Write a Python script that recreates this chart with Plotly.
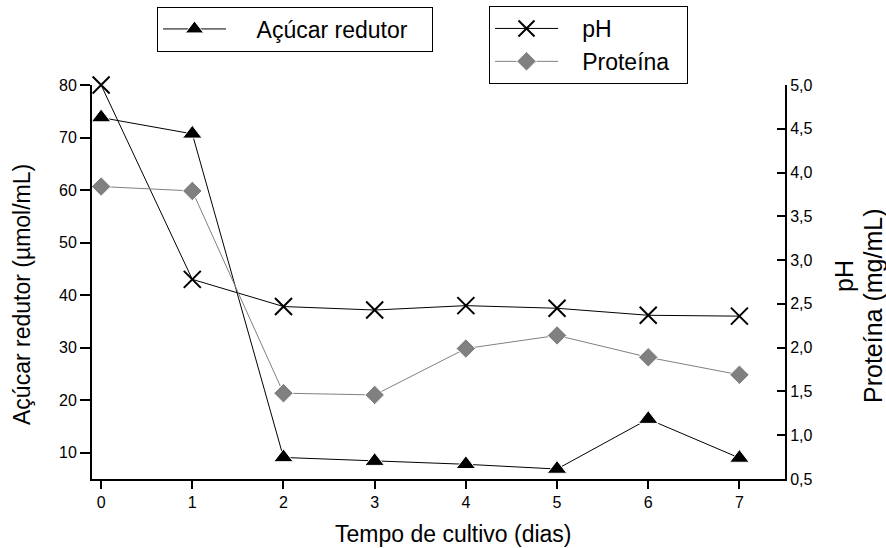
import plotly.graph_objects as go

# Dados do cultivo
dias = [0, 1, 2, 3, 4, 5, 6, 7]
acucar_redutor = [73.8, 70.7, 9.1, 8.4, 7.8, 6.9, 16.4, 9.0]      # µmol/mL
ph = [5.0, 2.78, 2.47, 2.43, 2.48, 2.45, 2.37, 2.36]
proteina = [3.84, 3.79, 1.48, 1.46, 1.99, 2.14, 1.89, 1.69]        # mg/mL

ticks_x = dias
ticks_esq = [10, 20, 30, 40, 50, 60, 70, 80]
ticks_dir = [0.5, 1.0, 1.5, 2.0, 2.5, 3.0, 3.5, 4.0, 4.5, 5.0]

FONTE = "Liberation Sans, Arial, sans-serif"
CINZA = "#808080"
W, H = 886, 548
M_L, M_R, M_T, M_B = 92, 101, 85, 69
PW, PH = W - M_L - M_R, H - M_T - M_B
NB = "\u00a0"


def px_x(px):
    return (px - M_L) / PW


def px_y(py):
    return (H - M_B - py) / PH


fig = go.Figure()

fig.add_trace(go.Scatter(
    x=dias, y=acucar_redutor, name=NB * 4 + "Açúcar redutor" + NB * 3,
    mode="lines+markers", yaxis="y", cliponaxis=False,
    line=dict(color="black", width=1),
    marker=dict(symbol="triangle-up", size=17, color="black",
                line=dict(color="white", width=1)),
    legend="legend",
))

fig.add_trace(go.Scatter(
    x=dias, y=ph, name=NB * 3 + "pH",
    mode="lines+markers", yaxis="y2", cliponaxis=False,
    line=dict(color="black", width=1),
    marker=dict(symbol="x-thin-open", size=17, color="black",
                line=dict(color="black", width=2)),
    legend="legend2",
))

fig.add_trace(go.Scatter(
    x=dias, y=proteina, name=NB * 3 + "Proteína" + NB * 2,
    mode="lines+markers", yaxis="y2", cliponaxis=False,
    line=dict(color=CINZA, width=1),
    marker=dict(symbol="diamond", size=15, color=CINZA,
                line=dict(color="white", width=1)),
    legend="legend2",
))

eixo = dict(showline=True, linecolor="black", linewidth=2,
            ticks="outside", tickcolor="black", tickwidth=2,
            showgrid=False, zeroline=False, automargin=False,
            tickfont=dict(family=FONTE, size=16, color="black"))

titulos = [
    dict(text="Tempo de cultivo (dias)", x=px_x(453), y=px_y(534), textangle=0, size=23),
    dict(text="Açúcar redutor (µmol/mL)", x=px_x(22), y=px_y(295), textangle=-90, size=23),
    dict(text="pH", x=px_x(844), y=px_y(276), textangle=-90, size=25),
    dict(text="Proteína (mg/mL)", x=px_x(873), y=px_y(306), textangle=-90, size=25),
]
anotacoes = [
    dict(xref="paper", yref="paper", xanchor="center", yanchor="middle",
         showarrow=False, text=t["text"], x=t["x"], y=t["y"],
         textangle=t["textangle"],
         font=dict(family=FONTE, size=t["size"], color="black"))
    for t in titulos
]

fig.update_layout(
    width=W, height=H,
    margin=dict(l=M_L, r=M_R, t=M_T, b=M_B, autoexpand=False),
    paper_bgcolor="white", plot_bgcolor="white",
    font=dict(family=FONTE, color="black"),
    separators=",.",
    showlegend=True,
    annotations=anotacoes,
    xaxis=dict(**eixo, range=[-0.1, 7.5], tickvals=ticks_x, ticklen=8),
    yaxis=dict(**eixo, range=[5, 80], tickvals=ticks_esq, ticklen=10),
    yaxis2=dict(showline=True, linecolor="black", linewidth=2,
                ticks="inside", tickcolor="black", tickwidth=2, ticklen=8,
                showgrid=False, zeroline=False, automargin=False,
                overlaying="y", side="right", anchor="x",
                range=[0.5, 5.0], tickvals=ticks_dir, tickformat=".1f",
                tickfont=dict(family=FONTE, size=16, color="black")),
    legend=dict(x=157 / W, y=1 - 29 / H, xref="container", yref="container",
                xanchor="left", yanchor="middle",
                bordercolor="black", borderwidth=1, bgcolor="white",
                itemwidth=63, font=dict(family=FONTE, size=23)),
    legend2=dict(x=489 / W, y=1 - 45 / H, xref="container", yref="container",
                 xanchor="left", yanchor="middle",
                 bordercolor="black", borderwidth=1, bgcolor="white",
                 itemwidth=63, tracegroupgap=0,
                 font=dict(family=FONTE, size=23)),
)

fig.write_html("out.html")
